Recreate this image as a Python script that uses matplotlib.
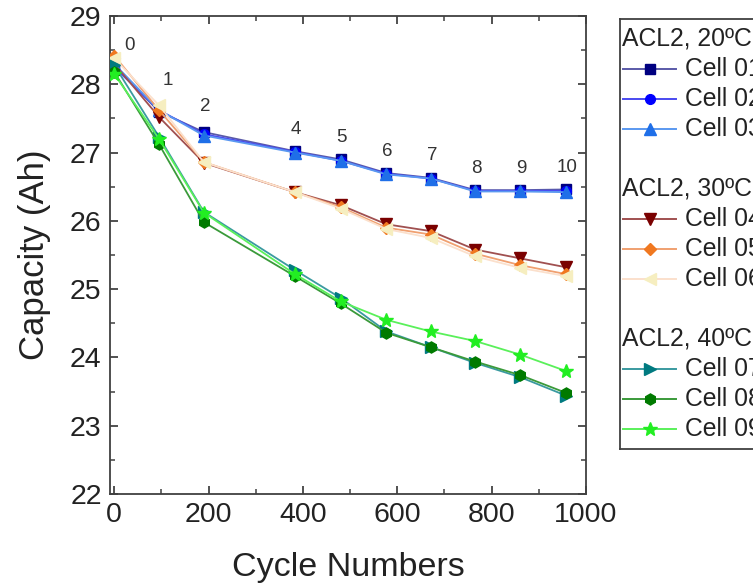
import matplotlib
matplotlib.use("Agg")
import matplotlib.pyplot as plt
from matplotlib.lines import Line2D
from matplotlib.ticker import MultipleLocator

plt.rcParams['font.family'] = ['Liberation Sans', 'DejaVu Sans']

# ---------------- data ----------------
cycles = [0, 95, 190, 383, 480, 577, 671, 765, 861, 958]
checkup_labels = ['0', '1', '2', '4', '5', '6', '7', '8', '9', '10']

cell01 = [28.27, 27.60, 27.30, 27.02, 26.90, 26.70, 26.63, 26.45, 26.45, 26.46]
cell02 = [28.25, 27.62, 27.27, 27.01, 26.88, 26.69, 26.62, 26.44, 26.44, 26.44]
cell03 = [28.30, 27.62, 27.25, 27.00, 26.88, 26.68, 26.62, 26.43, 26.43, 26.42]
cell04 = [28.30, 27.52, 26.85, 26.42, 26.23, 25.95, 25.85, 25.58, 25.45, 25.32]
cell05 = [28.42, 27.62, 26.86, 26.42, 26.20, 25.90, 25.80, 25.52, 25.35, 25.22]
cell06 = [28.38, 27.69, 26.86, 26.42, 26.18, 25.88, 25.75, 25.48, 25.31, 25.19]
cell07 = [28.28, 27.23, 26.13, 25.28, 24.87, 24.38, 24.15, 23.92, 23.71, 23.44]
cell08 = [28.18, 27.12, 25.98, 25.19, 24.79, 24.36, 24.15, 23.94, 23.74, 23.48]
cell09 = [28.15, 27.20, 26.12, 25.22, 24.82, 24.55, 24.38, 24.24, 24.04, 23.80]

group_titles = ['ACL2, 20ºC', 'ACL2, 30ºC', 'ACL2, 40ºC']
cell_names = ['Cell 01', 'Cell 02', 'Cell 03', 'Cell 04', 'Cell 05',
              'Cell 06', 'Cell 07', 'Cell 08', 'Cell 09']
series = [cell01, cell02, cell03, cell04, cell05, cell06, cell07, cell08, cell09]

# ---------------- styles ----------------
marker_colors = ['#000080', '#0000ff', '#1f6fe8', '#7a0000', '#f07820',
                 '#f6eec0', '#007a80', '#007a00', '#22ee22']
line_colors = ['#5a5aa8', '#4a4af0', '#5a98f0', '#a05050', '#f0a070',
               '#fbe0cc', '#3a9aa0', '#3a9a3a', '#5af05a']
markers = ['s', 'o', '^', 'v', 'D', '<', '>', 'h', '*']
msizes = [7, 7, 8, 8, 6.5, 8, 8, 8, 10]

W, H = 753, 583
fig = plt.figure(figsize=(W / 100, H / 100), dpi=100)
ax = fig.add_axes([110 / W, 1 - 494 / H, 476 / W, 478 / H])

order = [6, 7, 8, 3, 4, 5, 0, 1, 2]
for i in order:
    ax.plot(cycles, series[i], color=line_colors[i], lw=1.3,
            marker=markers[i], ms=msizes[i], mfc=marker_colors[i],
            mec=marker_colors[i], zorder=3 + i * 0.1)

# check-up annotations above the 20 °C curve
for k, (xv, yv, lab) in enumerate(zip(cycles, cell01, checkup_labels)):
    if k == 0:
        off = (15, 20)
    elif k == 1:
        off = (9, 31)
    elif k == 2:
        off = (1, 26)
    else:
        off = (1, 22)
    ax.annotate(lab, (xv, yv), xytext=off, textcoords='offset pixels',
                ha='center', va='center', fontsize=13.5, color='#333333')

ax.set_xlim(-9, 1000)
ax.set_ylim(22, 29)
ax.xaxis.set_major_locator(MultipleLocator(200))
ax.xaxis.set_minor_locator(MultipleLocator(100))
ax.yaxis.set_major_locator(MultipleLocator(1))
ax.yaxis.set_minor_locator(MultipleLocator(0.5))
ax.tick_params(which='both', direction='in', top=True, right=True,
               color='#404040', width=1.1)
ax.tick_params(which='major', length=6, labelsize=20.5, colors='#222222',
               pad=6)
ax.tick_params(which='minor', length=3.5)
for s in ax.spines.values():
    s.set_color('#404040')
    s.set_linewidth(1.3)

ax.set_xlabel('Cycle Numbers', fontsize=24.5, color='#222222', labelpad=17)
ax.set_ylabel('Capacity (Ah)', fontsize=25, color='#222222', labelpad=14)

# ---------------- legend (manual panel, clipped by figure edge) ----------------
lx0, lx1, ly_top, ly_bot = 620, 800, 19, 449
lax = fig.add_axes([lx0 / W, 1 - ly_bot / H, (lx1 - lx0) / W,
                    (ly_bot - ly_top) / H])
lax.set_xlim(lx0, lx1)
lax.set_ylim(ly_bot, ly_top)
lax.set_xticks([])
lax.set_yticks([])
for s in lax.spines.values():
    s.set_color('#404040')
    s.set_linewidth(1.3)

row = 0
row_h = 30
y0 = 38.5
for g in range(3):
    yy = y0 + row * row_h
    lax.text(621.5, yy, group_titles[g], fontsize=17.8, va='center',
             ha='left', color='#222222')
    row += 1
    for j in range(3):
        i = g * 3 + j
        yy = y0 + row * row_h
        lax.add_line(Line2D([623, 676], [yy, yy], color=line_colors[i], lw=1.4))
        lax.add_line(Line2D([649.5], [yy], marker=markers[i], ms=msizes[i],
                            mfc=marker_colors[i], mec=marker_colors[i],
                            linestyle='none'))
        lax.text(685, yy, cell_names[i], fontsize=17.8, va='center',
                 ha='left', color='#222222')
        row += 1
    row += 1

fig.savefig('out.png', dpi=100)
